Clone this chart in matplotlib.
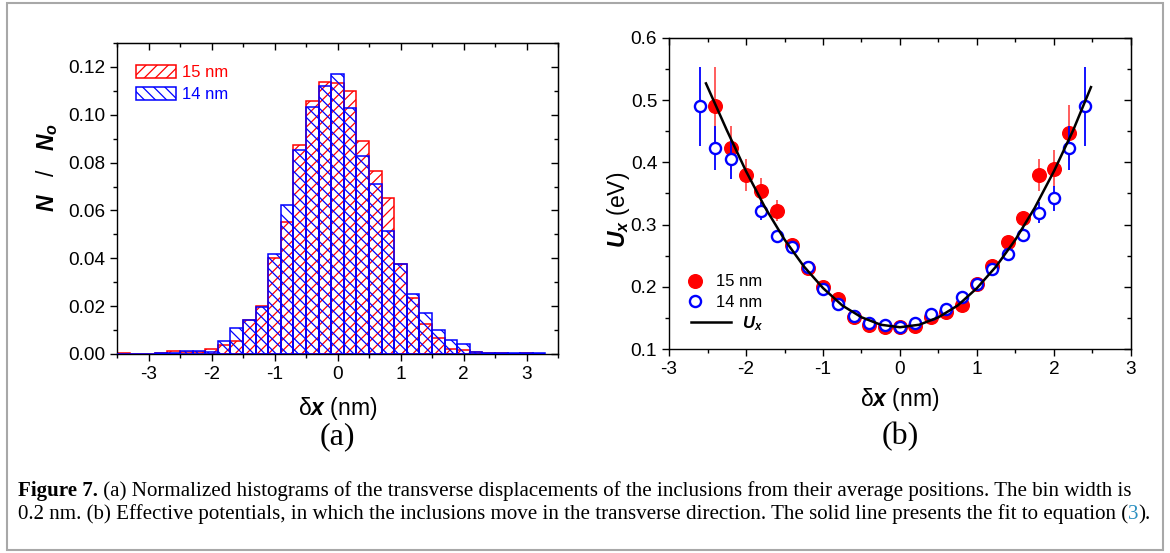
import matplotlib
matplotlib.use("Agg")
import matplotlib.pyplot as plt
from matplotlib.patches import Patch, Rectangle
from matplotlib.lines import Line2D
from matplotlib.ticker import MultipleLocator, FormatStrFormatter

plt.rcParams['font.family'] = ['Liberation Sans', 'DejaVu Sans']
plt.rcParams['mathtext.fontset'] = 'custom'
plt.rcParams['mathtext.it'] = 'Liberation Sans:italic:bold'
plt.rcParams['mathtext.rm'] = 'Liberation Sans:bold'
plt.rcParams['mathtext.bf'] = 'Liberation Sans:bold'
plt.rcParams['axes.unicode_minus'] = False
plt.rcParams['hatch.linewidth'] = 0.9

# (a) histogram, bin centres (nm), bin width 0.2 nm
bin_centres = [-3.4, -3.2, -3.0, -2.8, -2.6, -2.4, -2.2, -2.0, -1.8, -1.6,
               -1.4, -1.2, -1.0, -0.8, -0.6, -0.4, -0.2, 0.0, 0.2, 0.4,
               0.6, 0.8, 1.0, 1.2, 1.4, 1.6, 1.8, 2.0, 2.2, 2.4,
               2.6, 2.8, 3.0, 3.2]
hist_15nm = [0.0005, 0.0, 0.0, 0.0003, 0.0014, 0.0008, 0.0008, 0.0022, 0.0036, 0.0054,
             0.0142, 0.0201, 0.0403, 0.0550, 0.0874, 0.1056, 0.1139, 0.1131, 0.1100, 0.0889,
             0.0764, 0.0654, 0.0378, 0.0232, 0.0125, 0.0068, 0.0021, 0.0017, 0.0008, 0.0003,
             0.0003, 0.0, 0.0003, 0.0]
hist_14nm = [0.0, 0.0, 0.0, 0.0005, 0.0006, 0.0011, 0.0014, 0.0008, 0.0056, 0.0108,
             0.0144, 0.0197, 0.0419, 0.0622, 0.0853, 0.1033, 0.1120, 0.1170, 0.1030, 0.0829,
             0.0710, 0.0515, 0.0378, 0.0251, 0.0172, 0.0101, 0.0057, 0.0040, 0.0010, 0.0003,
             0.0006, 0.0003, 0.0006, 0.0006]

# (b) effective potentials
x_15nm = [-2.4, -2.2, -2.0, -1.8, -1.6, -1.4, -1.2, -1.0, -0.8, -0.6, -0.4, -0.2,
          0.0, 0.2, 0.4, 0.6, 0.8, 1.0, 1.2, 1.4, 1.6, 1.8, 2.0, 2.2]
u_15nm = [0.490, 0.423, 0.380, 0.354, 0.322, 0.267, 0.231, 0.200, 0.181, 0.152, 0.139, 0.135,
          0.136, 0.137, 0.152, 0.160, 0.170, 0.204, 0.234, 0.272, 0.311, 0.380, 0.390, 0.448]
err_15nm = [0.063, 0.036, 0.026, 0.021, 0.017, 0.006, 0.005, 0.004, 0.004, 0.003, 0.003, 0.003,
            0.003, 0.003, 0.003, 0.003, 0.004, 0.004, 0.005, 0.006, 0.008, 0.026, 0.030, 0.044]

x_14nm = [-2.6, -2.4, -2.2, -1.8, -1.6, -1.4, -1.2, -1.0, -0.8, -0.6, -0.4, -0.2,
          0.0, 0.2, 0.4, 0.6, 0.8, 1.0, 1.2, 1.4, 1.6, 1.8, 2.0, 2.2, 2.4]
u_14nm = [0.490, 0.423, 0.405, 0.322, 0.282, 0.264, 0.232, 0.197, 0.173, 0.153, 0.142, 0.138,
          0.135, 0.141, 0.156, 0.165, 0.184, 0.204, 0.229, 0.252, 0.284, 0.319, 0.342, 0.423, 0.490]
err_14nm = [0.063, 0.036, 0.032, 0.015, 0.010, 0.006, 0.005, 0.004, 0.004, 0.003, 0.003, 0.003,
            0.003, 0.003, 0.004, 0.004, 0.005, 0.005, 0.005, 0.006, 0.010, 0.017, 0.020, 0.036, 0.063]

# fit curve U_x
fit_x = [-2.52, -2.25, -2.0, -1.75, -1.5, -1.25, -1.0, -0.75, -0.5, -0.25, 0.0,
         0.25, 0.5, 0.75, 1.0, 1.25, 1.5, 1.75, 2.0, 2.25, 2.48]
fit_u = [0.527, 0.452, 0.386, 0.327, 0.276, 0.233, 0.198, 0.170, 0.151, 0.139, 0.135,
         0.139, 0.151, 0.170, 0.198, 0.233, 0.276, 0.327, 0.386, 0.452, 0.521]

W, H = 1170, 553
fig = plt.figure(figsize=(W / 100, H / 100), dpi=100)


def px_axes(left, top, right, bottom):
    return fig.add_axes([left / W, 1 - bottom / H, (right - left) / W, (bottom - top) / H])


def style_axes(ax, xmaj, xmin, ymaj, ymin, yfmt):
    ax.xaxis.set_major_locator(MultipleLocator(xmaj))
    ax.xaxis.set_minor_locator(MultipleLocator(xmin))
    ax.yaxis.set_major_locator(MultipleLocator(ymaj))
    ax.yaxis.set_minor_locator(MultipleLocator(ymin))
    ax.yaxis.set_major_formatter(FormatStrFormatter(yfmt))
    ax.tick_params(which='both', direction='out', labelsize=13.7, width=1)
    ax.tick_params(which='major', length=5)
    ax.tick_params(which='minor', length=3)
    for s in ax.spines.values():
        s.set_linewidth(1)
    top = ax.secondary_xaxis('top')
    top.xaxis.set_major_locator(MultipleLocator(xmaj))
    top.xaxis.set_minor_locator(MultipleLocator(xmin))
    top.tick_params(which='both', direction='in', labeltop=False, width=1)
    top.tick_params(which='major', length=5)
    top.tick_params(which='minor', length=3)
    right = ax.secondary_yaxis('right')
    right.yaxis.set_major_locator(MultipleLocator(ymaj))
    right.yaxis.set_minor_locator(MultipleLocator(ymin))
    right.tick_params(which='both', direction='in', labelright=False, width=1)
    right.tick_params(which='major', length=5)
    right.tick_params(which='minor', length=3)


# ---- (a)
ax1 = px_axes(117, 43, 558, 354)
ax1.bar(bin_centres, hist_15nm, width=0.2, fill=False, edgecolor='red',
        hatch='///', linewidth=1.1, zorder=2)
ax1.bar(bin_centres, hist_14nm, width=0.2, fill=False, edgecolor='blue',
        hatch='\\\\\\', linewidth=1.1, zorder=3)
ax1.set_xlim(-3.5, 3.5)
ax1.set_ylim(0, 0.13)
style_axes(ax1, 1, 0.5, 0.02, 0.01, '%.2f')
ax1.set_ylabel(r'$N$   /   $N_o$', fontsize=16.5)
ax1.yaxis.set_label_coords(-0.129, 0.60)
ax1.set_xlabel(r'δ$x$ (nm)', fontsize=16.5, labelpad=9)
leg1 = ax1.legend(handles=[Patch(facecolor='none', edgecolor='red', hatch='///', linewidth=1.1),
                           Patch(facecolor='none', edgecolor='blue', hatch='\\\\\\', linewidth=1.1)],
                  labels=['15 nm', '14 nm'], loc='upper left', bbox_to_anchor=(0.043, 0.93),
                  frameon=False, fontsize=12, handlelength=2.4, handleheight=0.85,
                  handletextpad=0.35, labelspacing=0.4, borderpad=0, borderaxespad=0)
leg1.get_texts()[0].set_color('red')
leg1.get_texts()[1].set_color('blue')

# ---- (b)
ax2 = px_axes(669, 38, 1131, 349)
ax2.errorbar(x_15nm, u_15nm, yerr=err_15nm, fmt='o', color='red', ms=9.8,
             ecolor='#ff5050', elinewidth=1.3, capsize=0, zorder=2)
ax2.errorbar(x_14nm, u_14nm, yerr=err_14nm, fmt='o', mfc='white', mec='blue', mew=1.7,
             ms=8, ecolor='blue', elinewidth=1.3, capsize=0, zorder=3)
ax2.plot(fit_x, fit_u, color='black', lw=1.8, zorder=4)
ax2.set_xlim(-3, 3)
ax2.set_ylim(0.1, 0.6)
style_axes(ax2, 1, 0.5, 0.1, 0.05, '%.1f')
ax2.set_ylabel(r'$U_x$ (eV)', fontsize=16.5)
ax2.yaxis.set_label_coords(-0.080, 0.447)
ax2.set_xlabel(r'δ$x$ (nm)', fontsize=16.5, labelpad=6)
leg_pts = ax2.legend(handles=[Line2D([], [], ls='none', marker='o', color='red', ms=9.8),
                              Line2D([], [], ls='none', marker='o', mfc='white', mec='blue',
                                     mew=1.7, ms=8)],
                     labels=['15 nm', '14 nm'], loc='upper left', bbox_to_anchor=(0.036, 0.24),
                     frameon=False, fontsize=12, handlelength=1.1, handletextpad=0.75,
                     labelspacing=0.35, borderpad=0, borderaxespad=0)
ax2.add_artist(leg_pts)
ax2.legend(handles=[Line2D([], [], color='black', lw=1.8)], labels=[r'$U_x$'],
           loc='upper left', bbox_to_anchor=(0.047, 0.113), frameon=False, fontsize=12,
           handlelength=2.4, handletextpad=0.7, borderpad=0, borderaxespad=0)

# panel letters
fig.text((117 + 558) / 2 / W, 1 - 437 / H, '(a)', family='Liberation Serif', fontsize=23,
         ha='center', va='center')
fig.text((669 + 1131) / 2 / W, 1 - 437 / H, '(b)', family='Liberation Serif', fontsize=23,
         ha='center', va='center')

# caption
renderer = fig.canvas.get_renderer()


def caption_line(y, pieces, x0=18):
    x = x0
    for s, kw in pieces:
        t = fig.text(x / W, 1 - y / H, s, va='baseline', ha='left',
                     family='Liberation Serif', fontsize=15.1, **kw)
        x += t.get_window_extent(renderer).width


caption_line(496, [('Figure 7.', dict(weight='bold')),
                   (' (a) Normalized histograms of the transverse displacements of the inclusions '
                    'from their average positions. The bin width is', {})])
caption_line(519, [('0.2 nm. (b) Effective potentials, in which the inclusions move in the transverse '
                    'direction. The solid line presents the fit to equation (', {}),
                   ('3', dict(color='#2a8fc0')),
                   (').', {})])

fig.patches.append(Rectangle((7 / W, 1 - 550 / H), 1156 / W, 547 / H, transform=fig.transFigure,
                             fill=False, edgecolor='#a8a8a8', linewidth=1.5))

fig.savefig('out.png', dpi=100)
